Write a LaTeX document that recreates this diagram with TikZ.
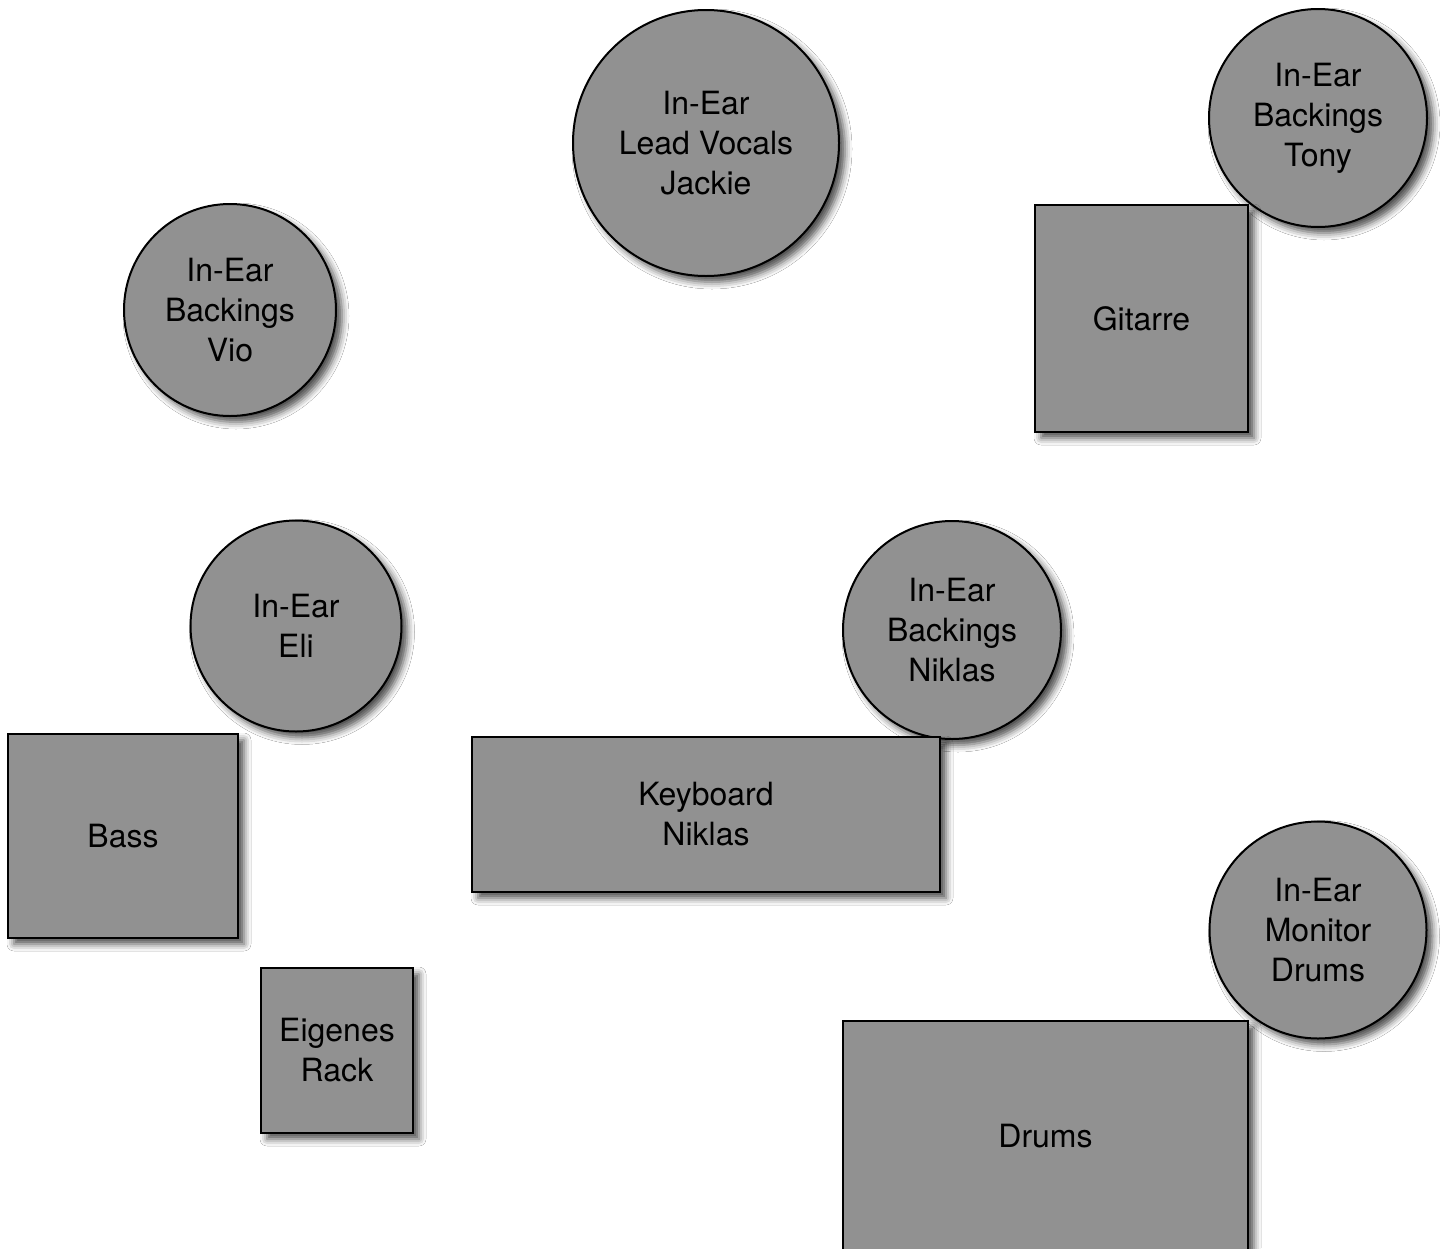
\documentclass[tikz,border=0pt]{standalone}
\usepackage{fontspec}
\setmainfont{TeX Gyre Heros}
\usetikzlibrary{shadows.blur}
\definecolor{boxgray}{HTML}{919191}
\tikzset{
  base/.style={draw=black, line width=1pt, fill=boxgray, inner sep=0pt, align=center,
    font=\fontsize{16pt}{20pt}\selectfont,
    blur shadow={shadow xshift=3pt, shadow yshift=-3pt, shadow blur radius=3.5pt, shadow opacity=70}},
  mon/.style={base, circle, minimum size=#1},
  box/.style 2 args={base, rectangle, minimum width=#1, minimum height=#2},
}
\begin{document}
\begin{tikzpicture}[x=0.5pt,y=-0.5pt]
\useasboundingbox[fill=white] (0,0) rectangle (1440,1248);
\node[mon=133pt] (jackie) at (706,143) {In-Ear\\Lead Vocals\\Jackie};
\node[mon=109pt] (tony) at (1318,118) {In-Ear\\Backings\\Tony};
\node[mon=106pt] (vio) at (230,310) {In-Ear\\Backings\\Vio};
\node[mon=105.5pt] (eli) at (296,626) {In-Ear\\Eli};
\node[mon=109pt] (niklasear) at (952,630) {In-Ear\\Backings\\Niklas};
\node[mon=108.5pt] (drumsear) at (1318,930) {In-Ear\\Monitor\\Drums};
\node[box={106.5pt}{113.5pt}] (gitarre) at (1141.5,318.5) {Gitarre};
\node[box={115pt}{102pt}] (bass) at (123,836) {Bass};
\node[box={76pt}{82.5pt}] (rack) at (337,1050.5) {Eigenes\\Rack};
\node[box={234pt}{77.5pt}] (keyboard) at (706,814.5) {Keyboard\\Niklas};
\node[box={202.5pt}{115pt}] (drums) at (1045.5,1136) {Drums};
\end{tikzpicture}
\end{document}
